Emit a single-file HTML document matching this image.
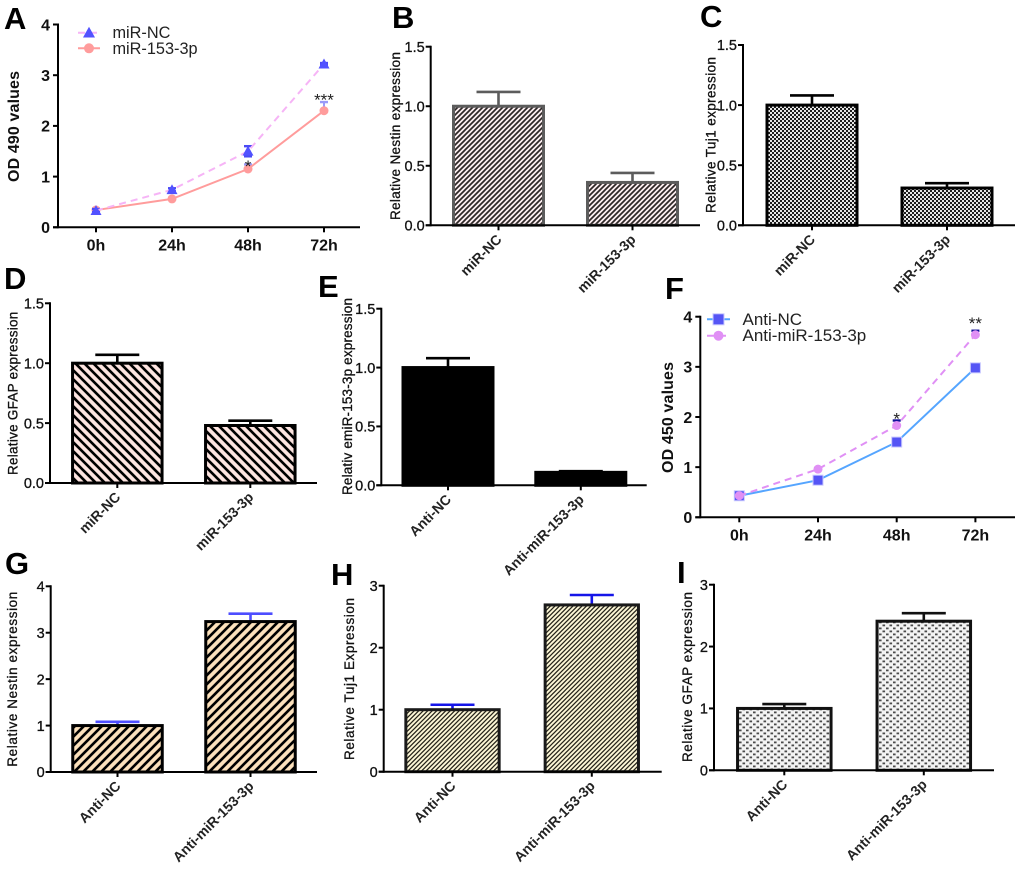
<!DOCTYPE html>
<html lang="en">
<head>
<meta charset="utf-8">
<title>Panels A-I: miR-153-3p expression and OD values</title>
<style>
html,body{margin:0;padding:0;background:#fff;}
svg{display:block;font-family:"Liberation Sans",Arial,sans-serif;}
</style>
</head>
<body>
<svg id="fig" xmlns="http://www.w3.org/2000/svg" width="1020" height="869" viewBox="0 0 1020 869">
<defs>
<pattern id="pat-b" patternUnits="userSpaceOnUse" width="5" height="5"><rect width="5" height="5" fill="#fbeef0"/><path d="M-1,6 L6,-1 M-1,1 L1,-1 M4,6 L6,4" stroke="#2c2626" stroke-width="1.7"/></pattern>
<pattern id="pat-c" patternUnits="userSpaceOnUse" width="4" height="4"><rect width="4" height="4" fill="#e6e6e6"/><rect width="2" height="2" fill="#1c1c1c"/><rect x="2" y="2" width="2" height="2" fill="#1c1c1c"/></pattern>
<pattern id="pat-d" patternUnits="userSpaceOnUse" width="9" height="9"><rect width="9" height="9" fill="#fde4e0"/><path d="M-2,-2 L11,11 M-2,7 L2,11 M7,-2 L11,2" stroke="#000" stroke-width="2.6"/></pattern>
<pattern id="pat-g" patternUnits="userSpaceOnUse" width="9" height="9"><rect width="9" height="9" fill="#fbe0bb"/><path d="M-2,11 L11,-2 M-2,2 L2,-2 M7,11 L11,7" stroke="#000" stroke-width="2.6"/></pattern>
<pattern id="pat-h" patternUnits="userSpaceOnUse" width="4.5" height="4.5"><rect width="4.5" height="4.5" fill="#fdf7d6"/><path d="M-1,5.5 L5.5,-1 M-1,1 L1,-1 M3.5,5.5 L5.5,3.5" stroke="#26241a" stroke-width="1.3"/></pattern>
<pattern id="pat-i" patternUnits="userSpaceOnUse" width="7" height="6"><rect width="7" height="6" fill="#f3f3f3"/><rect x="0.5" y="0.5" width="2.6" height="1.8" fill="#4a4a4a"/><rect x="4" y="3.5" width="2.6" height="1.8" fill="#4a4a4a"/></pattern>
</defs>
</svg>
<script>
const hourLabels = ['0h', '24h', '48h', '72h'];
const odTicks = [0, 1, 2, 3, 4];

const aNcMeans = [0.33, 0.74, 1.5, 3.22];
const aNcErrors = [0.03, 0.03, 0.1, 0.02];
const aMirMeans = [0.34, 0.56, 1.15, 2.3];
const aMirErrors = [0.03, 0.02, 0.09, 0.17];

const fNcMeans = [0.43, 0.74, 1.5, 2.98];
const fNcErrors = [0.02, 0.03, 0.03, 0.07];
const fAntiMeans = [0.43, 0.96, 1.83, 3.64];
const fAntiErrors = [0.02, 0.02, 0.1, 0.08];

const mirGroups = ['miR-NC', 'miR-153-3p'];
const antiGroups = ['Anti-NC', 'Anti-miR-153-3p'];
const ticks15 = ['0.0', '0.5', '1.0', '1.5'];
const ticks3 = ['0', '1', '2', '3'];
const ticks4 = ['0', '1', '2', '3', '4'];

const bMeans = [1.0, 0.36];
const bErrors = [0.12, 0.08];
const cMeans = [1.0, 0.31];
const cErrors = [0.08, 0.04];
const dMeans = [1.0, 0.48];
const dErrors = [0.07, 0.04];
const eMeans = [1.0, 0.11];
const eErrors = [0.08, 0.01];
const gMeans = [1.0, 3.24];
const gErrors = [0.08, 0.17];
const hMeans = [1.0, 2.69];
const hErrors = [0.08, 0.16];
const iMeans = [1.0, 2.41];
const iErrors = [0.07, 0.13];

const svg = document.getElementById('fig');
const NS = 'http://www.w3.org/2000/svg';

function mk(parent, tag, attrs, text) {
  const el = document.createElementNS(NS, tag);
  for (const k in attrs) el.setAttribute(k, attrs[k]);
  if (text !== undefined) el.textContent = text;
  parent.appendChild(el);
  return el;
}

function panelLetter(g, letter, x, y) {
  const t = mk(g, 'text', {x: x, y: y, 'font-size': 31, 'font-weight': 'bold', fill: '#000'}, letter);
  
  
}

function yTitle(g, label, x, y1, y2, size, weight) {
  const cy = (y1 + y2) / 2;
  const t = mk(g, 'text', {
    transform: 'translate(' + (x + size * 0.36) + ',' + cy + ') rotate(-90)',
    'text-anchor': 'middle', 'font-size': size, 'font-weight': weight, fill: '#111',
    stroke: '#111', 'stroke-width': weight === 'bold' ? 0 : 0.3,
    textLength: y2 - y1, lengthAdjust: 'spacing'
  }, label);
  
  
}

function yAxis(g, axisX, yScale, tickValues, tickLabels, size, weight, gap) {
  const top = yScale(tickValues[tickValues.length - 1]);
  const bottom = yScale(tickValues[0]);
  const line = mk(g, 'line', {x1: axisX, x2: axisX, y1: top - 1, y2: bottom + 1, stroke: '#000', 'stroke-width': 2});
  
  
  tickValues.forEach(function (v, i) {
    const y = yScale(v);
    const tick = mk(g, 'line', {x1: axisX - 5, x2: axisX, y1: y, y2: y, stroke: '#000', 'stroke-width': 2});
    
    
    const lab = mk(g, 'text', {x: axisX - gap, y: y + size * 0.36, 'text-anchor': 'end', 'font-size': size, 'font-weight': weight, fill: '#111', stroke: '#111', 'stroke-width': weight === 'bold' ? 0 : 0.3}, tickLabels[i]);
    
    
  });
}

function barPanel(cfg) {
  const g = mk(svg, 'g', {});
  
  
  panelLetter(g, cfg.letter, cfg.letterX, cfg.letterY);
  const yScale = function (v) { return cfg.bottom - (v / cfg.yMax) * (cfg.bottom - cfg.top); };
  const xScale = function (i) { return cfg.first + i * cfg.step; };
  cfg.means.forEach(function (m, i) {
    const cx = xScale(i);
    const cap = yScale(m + cfg.errors[i]);
    const stem = mk(g, 'line', {x1: cx, x2: cx, y1: yScale(m), y2: cap, stroke: cfg.err, 'stroke-width': 2.6});
    
    
    const hat = mk(g, 'line', {x1: cx - 22, x2: cx + 22, y1: cap, y2: cap, stroke: cfg.err, 'stroke-width': 2.6});
    
    
    const bar = mk(g, 'rect', {x: cx - cfg.barW / 2, y: yScale(m), width: cfg.barW, height: yScale(0) - yScale(m), fill: cfg.fill, stroke: cfg.edge, 'stroke-width': 3});
    
    
  });
  const xAxis = mk(g, 'line', {x1: cfg.axisX - 5, x2: cfg.xEnd, y1: cfg.bottom, y2: cfg.bottom, stroke: '#000', 'stroke-width': 2});
  
  
  cfg.groups.forEach(function (label, i) {
    const cx = xScale(i);
    const tick = mk(g, 'line', {x1: cx, x2: cx, y1: cfg.bottom, y2: cfg.bottom + 5, stroke: '#000', 'stroke-width': 2});
    
    
    const lab = mk(g, 'text', {
      transform: 'translate(' + (cx + 4) + ',' + (cfg.bottom + 15) + ') rotate(-45)',
      'text-anchor': 'end', 'font-size': 14, 'font-weight': 'bold', fill: '#222'
    }, label);
    
    
  });
  const values = cfg.tickLabels.map(Number);
  const tickPositions = function (v) { return yScale(v); };
  yAxis(g, cfg.axisX, tickPositions, values, cfg.tickLabels, 14.5, 'normal', 6);
  yTitle(g, cfg.title, cfg.titleX, cfg.titleY1, cfg.titleY2, 13.5, 'normal');
}

function drawMarker(g, kind, x, y, color, name, grow) {
  let el;
  if (kind === 'triangle') {
    const r = 5.5 + grow;
    el = mk(g, 'path', {d: 'M' + x + ',' + (y - r) + ' l' + r + ',' + (r * 1.8) + ' l' + (-2 * r) + ',0 z', fill: color});
  } else if (kind === 'square') {
    const r = 5 + grow;
    el = mk(g, 'rect', {x: x - r, y: y - r, width: 2 * r, height: 2 * r, fill: color, stroke: '#c8c8ff', 'stroke-width': 1});
  } else {
    el = mk(g, 'circle', {cx: x, cy: y, r: 4.5 + grow, fill: color});
  }
  
  
}

function lineSeries(g, xScale, yScale, s) {
  s.means.forEach(function (m, i) {
    const cx = xScale(i);
    const capTop = yScale(m + s.errors[i]);
    const capBottom = s.bothSides ? yScale(m - s.errors[i]) : yScale(m);
    const stem = mk(g, 'line', {x1: cx, x2: cx, y1: capBottom, y2: capTop, stroke: s.errColor, 'stroke-width': 2});
    
    
    const hat = mk(g, 'line', {x1: cx - 4, x2: cx + 4, y1: capTop, y2: capTop, stroke: s.errColor, 'stroke-width': 2.4});
    
    
    if (s.bothSides) {
      const low = mk(g, 'line', {x1: cx - 4, x2: cx + 4, y1: capBottom, y2: capBottom, stroke: s.errColor, 'stroke-width': 2.4});
      
      
    }
  });
  const pts = s.means.map(function (m, i) { return xScale(i) + ',' + yScale(m); }).join(' ');
  const attrs = {points: pts, fill: 'none', stroke: s.color, 'stroke-width': 2};
  if (s.dash) attrs['stroke-dasharray'] = s.dash;
  const line = mk(g, 'polyline', attrs);
  
  
  s.means.forEach(function (m, i) {
    drawMarker(g, s.kind, xScale(i), yScale(m), s.markerColor, 'point-' + s.name.toLowerCase(), 0);
  });
}

function legendRow(g, s, x1, x2, y, textX, size) {
  const attrs = {x1: x1, x2: x2, y1: y, y2: y, stroke: s.color, 'stroke-width': 2};
  if (s.dash) attrs['stroke-dasharray'] = s.dash;
  const l = mk(g, 'line', attrs);
  
  
  drawMarker(g, s.kind, (x1 + x2) / 2, y, s.markerColor, 'legend-marker', 0.5);
  const t = mk(g, 'text', {x: textX, y: y + 5.5, 'font-size': size, fill: '#222'}, s.name);
  
  
}

function linePanel(cfg) {
  const g = mk(svg, 'g', {});
  
  
  panelLetter(g, cfg.letter, cfg.letterX, cfg.letterY);
  const yScale = function (v) { return cfg.bottom - (v / 4) * (cfg.bottom - cfg.top); };
  const xScale = function (i) { return cfg.first + i * cfg.step; };
  yAxis(g, cfg.axisX, yScale, odTicks, odTicks.map(String), 16, 'bold', 8);
  yTitle(g, cfg.title, cfg.titleX, cfg.titleY1, cfg.titleY2, 16, 'bold');
  const xAxis = mk(g, 'line', {x1: cfg.axisX - 5, x2: cfg.xEnd, y1: cfg.bottom, y2: cfg.bottom, stroke: '#000', 'stroke-width': 2});
  
  
  hourLabels.forEach(function (label, i) {
    const cx = xScale(i);
    const tick = mk(g, 'line', {x1: cx, x2: cx, y1: cfg.bottom, y2: cfg.bottom + 5, stroke: '#000', 'stroke-width': 2});
    
    
    const lab = mk(g, 'text', {x: cx, y: cfg.bottom + 23, 'text-anchor': 'middle', 'font-size': 16, 'font-weight': 'bold', fill: '#111'}, label);
    
    
  });
  cfg.order.forEach(function (s) { lineSeries(g, xScale, yScale, s); });
  legendRow(g, cfg.series[0], cfg.legendX1, cfg.legendX2, cfg.legendY1, cfg.legendTextX, cfg.legendSize);
  legendRow(g, cfg.series[1], cfg.legendX1, cfg.legendX2, cfg.legendY2, cfg.legendTextX, cfg.legendSize);
  cfg.stars.forEach(function (st) {
    const t = mk(g, 'text', {x: xScale(st.index), y: yScale(st.level) + 9, 'text-anchor': 'middle', 'font-size': 17, fill: '#222'}, st.mark);
    
    
  });
}

const aNc = {name: 'miR-NC', means: aNcMeans, errors: aNcErrors, color: '#f6b4f6', dash: '7 5', kind: 'triangle', markerColor: '#5252ff', errColor: '#4a4af5', bothSides: true};
const aMir = {name: 'miR-153-3p', means: aMirMeans, errors: aMirErrors, color: '#ff9c9c', kind: 'circle', markerColor: '#ff9c9c', errColor: '#9a9af8'};
linePanel({letter: 'A', letterX: 4, letterY: 29, axisX: 58, top: 24.5, bottom: 227.3, xEnd: 360, first: 96, step: 76,
  title: 'OD 490 values', titleX: 13, titleY1: 71, titleY2: 182,
  series: [aNc, aMir], order: [aMir, aNc],
  legendX1: 78, legendX2: 100, legendY1: 32.7, legendY2: 48.3, legendTextX: 112.5, legendSize: 16.3,
  stars: [{index: 2, level: 1.27, mark: '*'}, {index: 3, level: 2.58, mark: '***'}]});

const fNc = {name: 'Anti-NC', means: fNcMeans, errors: fNcErrors, color: '#55a5ff', kind: 'square', markerColor: '#5555f5', errColor: '#d8d8ff'};
const fAnti = {name: 'Anti-miR-153-3p', means: fAntiMeans, errors: fAntiErrors, color: '#e090f5', dash: '7 5', kind: 'circle', markerColor: '#e090f5', errColor: '#10109a'};
linePanel({letter: 'F', letterX: 665, letterY: 299, axisX: 700.3, top: 316.7, bottom: 517.3, xEnd: 1015, first: 739.3, step: 78.7,
  title: 'OD 450 values', titleX: 667, titleY1: 362, titleY2: 473,
  series: [fNc, fAnti], order: [fNc, fAnti],
  legendX1: 707, legendX2: 730, legendY1: 319.3, legendY2: 335.7, legendTextX: 742.5, legendSize: 17,
  stars: [{index: 2, level: 2.03, mark: '*'}, {index: 3, level: 3.93, mark: '**'}]});

barPanel({letter: 'B', letterX: 392, letterY: 28, groups: mirGroups, means: bMeans, errors: bErrors, yMax: 1.5, tickLabels: ticks15,
  fill: 'url(#pat-b)', edge: '#5c5c5c', err: '#5c5c5c', title: 'Relative Nestin expression', titleX: 395, titleY1: 52, titleY2: 220,
  axisX: 430.7, top: 46.7, bottom: 225.3, xEnd: 700, first: 498.5, step: 134, barW: 90});
barPanel({letter: 'C', letterX: 700, letterY: 27, groups: mirGroups, means: cMeans, errors: cErrors, yMax: 1.5, tickLabels: ticks15,
  fill: 'url(#pat-c)', edge: '#000', err: '#000', title: 'Relative Tuj1 expression', titleX: 710.7, titleY1: 57, titleY2: 213,
  axisX: 743, top: 45, bottom: 225.3, xEnd: 1015, first: 812, step: 135, barW: 90});
barPanel({letter: 'D', letterX: 4, letterY: 289, groups: mirGroups, means: dMeans, errors: dErrors, yMax: 1.5, tickLabels: ticks15,
  fill: 'url(#pat-d)', edge: '#000', err: '#000', title: 'Relative GFAP expression', titleX: 12.7, titleY1: 311.7, titleY2: 475,
  axisX: 50, top: 303.3, bottom: 483, xEnd: 317, first: 117.3, step: 133, barW: 89.5});
barPanel({letter: 'E', letterX: 318, letterY: 297, groups: antiGroups, means: eMeans, errors: eErrors, yMax: 1.5, tickLabels: ticks15,
  fill: '#000', edge: '#000', err: '#000', title: 'Relativ emiR-153-3p expression', titleX: 347, titleY1: 298, titleY2: 495,
  axisX: 381.3, top: 308.7, bottom: 485.3, xEnd: 646.7, first: 448, step: 132.8, barW: 90});
barPanel({letter: 'G', letterX: 5, letterY: 574, groups: antiGroups, means: gMeans, errors: gErrors, yMax: 4, tickLabels: ticks4,
  fill: 'url(#pat-g)', edge: '#000', err: '#4d4dff', title: 'Relative Nestin expression', titleX: 12, titleY1: 591.7, titleY2: 766.7,
  axisX: 50.7, top: 586.3, bottom: 772, xEnd: 317, first: 117.5, step: 133, barW: 89.5});
barPanel({letter: 'H', letterX: 331, letterY: 585, groups: antiGroups, means: hMeans, errors: hErrors, yMax: 3, tickLabels: ticks3,
  fill: 'url(#pat-h)', edge: '#1a1a1a', err: '#1515e8', title: 'Relative Tuj1 Expression', titleX: 349, titleY1: 598, titleY2: 760,
  axisX: 383.7, top: 585.7, bottom: 771.7, xEnd: 661.7, first: 452.5, step: 139.3, barW: 93.3});
barPanel({letter: 'I', letterX: 677, letterY: 583, groups: antiGroups, means: iMeans, errors: iErrors, yMax: 3, tickLabels: ticks3,
  fill: 'url(#pat-i)', edge: '#111', err: '#111', title: 'Relative GFAP expression', titleX: 687, titleY1: 592, titleY2: 762,
  axisX: 714, top: 584.7, bottom: 770.3, xEnd: 994, first: 784.3, step: 139.5, barW: 93.5});
</script>
</body>
</html>
